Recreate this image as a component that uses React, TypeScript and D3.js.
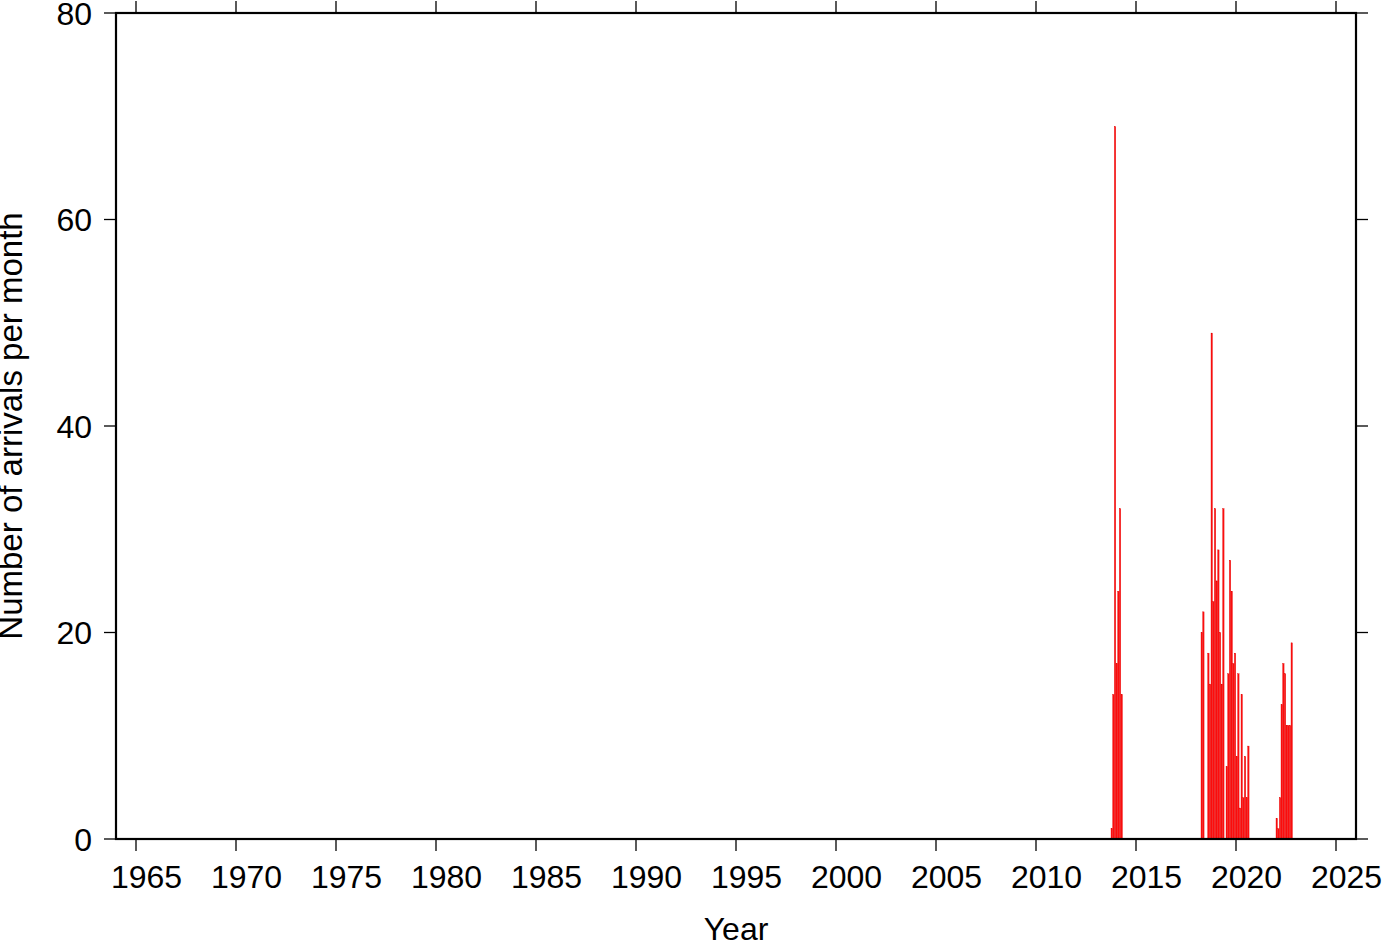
import React from "react";
import * as d3 from "d3";

// Monthly arrival counts, grouped in runs of consecutive months
const run2013Start = [2013, 10]; // year, month (1-12)
const run2013Counts = [1, 14, 69, 17, 24, 32, 14];

const run2018Start = [2018, 4];
const run2018Counts = [
  20, 22, 0, 0, 18, 15, 49, 23, 32, 25, 28, 20, 15, 32, 0, 7, 16, 27, 24, 17, 18,
  8, 16, 3, 14, 4, 8, 4, 9,
];

const run2022Start = [2022, 1];
const run2022Counts = [2, 1, 4, 13, 17, 16, 11, 11, 11, 19];

const xTickYears = [1965, 1970, 1975, 1980, 1985, 1990, 1995, 2000, 2005, 2010, 2015, 2020, 2025];
const yTickValues = [0, 20, 40, 60, 80];

const xDomain = [1964, 2026];
const yDomain = [0, 80];

const xLabel = "Year";
const yLabel = "Number of arrivals per month";

const W = 1382;
const H = 942;
const left = 116;
const right = 1356;
const top = 13;
const bottom = 839;
const FONT = "'Liberation Sans', Arial, Helvetica, sans-serif";

type Bar = { t0: number; t1: number; value: number };

function buildBars(start: number[], counts: number[]): Bar[] {
  return counts.map((value, i) => {
    const t0 = start[0] + (start[1] - 1 + i) / 12;
    return { t0, t1: t0 + 1 / 12, value };
  });
}

export default function App() {
  const x = d3.scaleLinear().domain(xDomain).range([left, right]);
  const y = d3.scaleLinear().domain(yDomain).range([bottom, top]);

  const bars = [
    ...buildBars(run2013Start, run2013Counts),
    ...buildBars(run2018Start, run2018Counts),
    ...buildBars(run2022Start, run2022Counts),
  ].filter((b) => b.value > 0);

  const tickLen = 12;

  return (
    <svg
      width={W}
      height={H}
      style={{ position: "absolute", left: 0, top: 0, background: "#fff" }}
      fontFamily={FONT}
    >
      <rect x={0} y={0} width={W} height={H} fill="#fff" />
      {/* bars */}
      <g>
        {bars.map((b, i) => (
          <rect
            key={i}
            x={x(b.t0)}
            y={y(b.value)}
            width={Math.max(0.5, x(b.t1) - x(b.t0) - 0.25)}
            height={y(0) - y(b.value)}
            fill="#ff0f0f"
            stroke="#e00000"
            strokeWidth={0.35}
          />
        ))}
      </g>
      {/* x ticks */}
      {xTickYears.map((yr) => (
        <g key={yr}>
          <line x1={x(yr)} x2={x(yr)} y1={bottom} y2={bottom + tickLen} stroke="#000" strokeWidth={1.3} />
          <line x1={x(yr)} x2={x(yr)} y1={top} y2={top - tickLen} stroke="#000" strokeWidth={1.3} />
          <text x={x(yr) + 10.5} y={888} textAnchor="middle" fontSize={32} fill="#000">
            {yr}
          </text>
        </g>
      ))}
      {/* y ticks */}
      {yTickValues.map((v) => (
        <g key={v}>
          <line x1={left - tickLen} x2={left} y1={y(v)} y2={y(v)} stroke="#000" strokeWidth={1.3} />
          <line x1={right} x2={right + tickLen} y1={y(v)} y2={y(v)} stroke="#000" strokeWidth={1.3} />
          <text x={92} y={y(v) + 11.5} textAnchor="end" fontSize={32} fill="#000">
            {v}
          </text>
        </g>
      ))}
      {/* frame */}
      <rect x={left} y={top} width={right - left} height={bottom - top} fill="none" stroke="#000" strokeWidth={2.2} />
      {/* axis labels */}
      <text x={(left + right) / 2} y={940} textAnchor="middle" fontSize={32} fill="#000">
        {xLabel}
      </text>
      <text
        transform={`translate(22, ${(top + bottom) / 2}) rotate(-90)`}
        textAnchor="middle"
        fontSize={33}
        fill="#000"
      >
        {yLabel}
      </text>
    </svg>
  );
}
